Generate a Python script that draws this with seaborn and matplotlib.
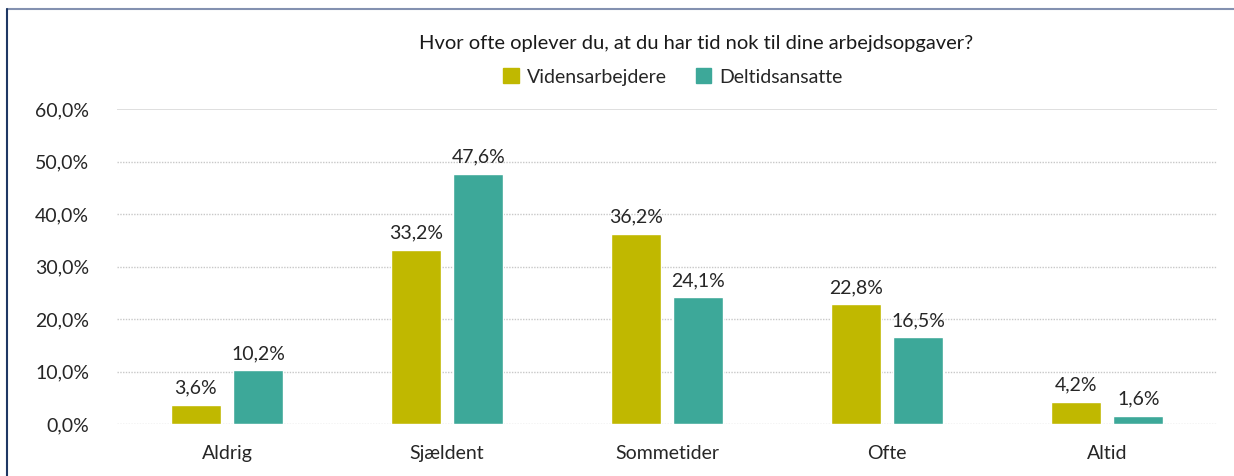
import pandas as pd
import matplotlib.pyplot as plt
import matplotlib.lines as mlines
import seaborn as sns

# Data
kategorier = ["Aldrig", "Sjældent", "Sommetider", "Ofte", "Altid"]
videnspct = [3.6, 33.2, 36.2, 22.8, 4.2]
deltidpct = [10.2, 47.6, 24.1, 16.5, 1.6]
grupper = ["Vidensarbejdere", "Deltidsansatte"]
yticks = [0, 10, 20, 30, 40, 50, 60]

df = pd.DataFrame({
    "Svar": kategorier * 2,
    "Gruppe": [grupper[0]] * 5 + [grupper[1]] * 5,
    "Pct": videnspct + deltidpct,
})

sns.set_theme(style="white")
plt.rcParams['font.family'] = ['Lato', 'DejaVu Sans']

farver = {"Vidensarbejdere": "#C0B800", "Deltidsansatte": "#3DA899"}

fig = plt.figure(figsize=(12.34, 4.76), dpi=100)
ax = fig.add_axes([117 / 1234, 1 - 424 / 476, 1100 / 1234, 315 / 476])

sns.barplot(data=df, x="Svar", y="Pct", hue="Gruppe", order=kategorier,
            hue_order=grupper, palette=farver, width=0.57, gap=0.2,
            saturation=1, legend=False, ax=ax, zorder=3)

ax.set_ylim(0, 60)
ax.set_xlim(-0.5, 4.5)
ax.set_yticks(yticks)
ax.set_yticklabels([f"{v:.1f}%".replace(".", ",") for v in yticks], fontsize=14)
ax.tick_params(axis="x", labelsize=14, length=0, pad=15)
ax.tick_params(axis="y", length=0, pad=20)
ax.set_xlabel("")
ax.set_ylabel("")
for s in ax.spines.values():
    s.set_visible(False)

# gridlines: top solid, rest dotted
for v in yticks:
    if v == 60:
        ax.axhline(v, color="#d9d9d9", lw=1.2, zorder=1)
    else:
        ax.axhline(v, color="#c8c8c8", lw=1, ls=(0, (1, 1)), zorder=1)

# value labels
for cont in ax.containers:
    ax.bar_label(cont, labels=[f"{b.get_height():.1f}%".replace(".", ",") for b in cont],
                 fontsize=14, padding=6)

# title and legend
fig.text(696 / 1234, 1 - 44 / 476, "Hvor ofte oplever du, at du har tid nok til dine arbejdsopgaver?",
         ha="center", va="center", fontsize=14.5, color="#1a1a1a")
handles = [plt.Rectangle((0, 0), 1, 1, color=farver[g]) for g in grupper]
fig.legend(handles, grupper, loc="center", bbox_to_anchor=(673 / 1234, 1 - 77 / 476),
           ncol=2, frameon=False, fontsize=14, handlelength=0.8, handleheight=0.8,
           handletextpad=0.4, columnspacing=1.5)

# frame lines at the top and left
fig.add_artist(mlines.Line2D([7 / 1234, 1], [1 - 9 / 476, 1 - 9 / 476], color="#8391b0", lw=1.5))
fig.add_artist(mlines.Line2D([7 / 1234, 7 / 1234], [0, 1 - 9 / 476], color="#1f3864", lw=1.5))

fig.savefig("out.png", dpi=100)
